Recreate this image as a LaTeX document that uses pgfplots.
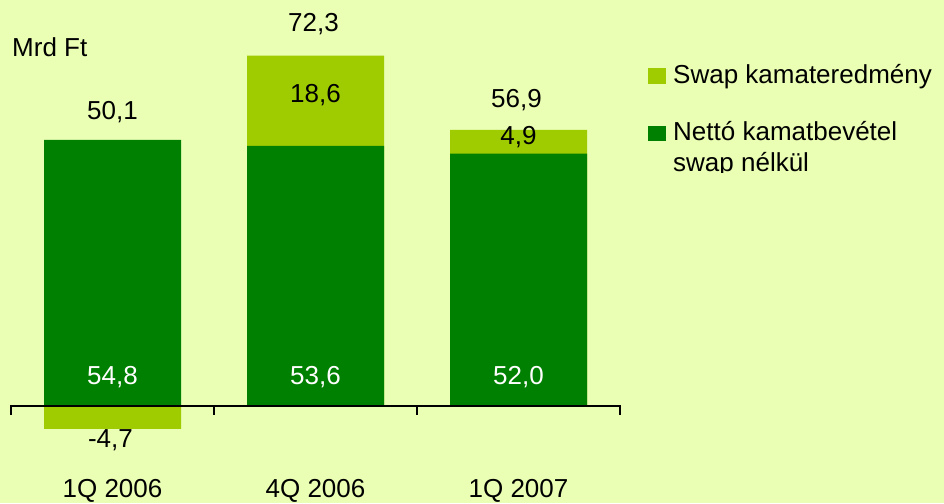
\documentclass[border=0pt]{standalone}
\usepackage{pgfplots}
\pgfplotsset{compat=1.18}
\usepackage{fontspec}
\setmainfont{Liberation Sans}
\definecolor{bg}{RGB}{234,255,180}
\definecolor{dgreen}{RGB}{0,128,0}
\definecolor{lgreen}{RGB}{158,204,0}
\tikzset{lbl/.style={font=\fontsize{26}{31}\selectfont, inner sep=0pt, anchor=base}}
\begin{document}
\begin{tikzpicture}[x=1pt,y=1pt]
\fill[bg] (0,0) rectangle (944,503);
\useasboundingbox (0,0) rectangle (944,503);
\begin{axis}[
  at={(11pt,0pt)}, anchor=south west,
  scale only axis, width=609pt, height=503pt,
  xmin=-0.5, xmax=2.5, ymin=-19.98, ymax=83.64,
  hide axis, clip=false,
  ybar, bar width=137pt, bar shift=0pt,
]
\addplot[fill=lgreen, draw=none] coordinates {(0,-4.7) (1,72.2) (2,56.9)};
\addplot[fill=dgreen, draw=none] coordinates {(0,54.8) (1,53.6) (2,52.0)};
\draw[line width=2pt, line cap=rect] (axis cs:-0.5,0) -- (axis cs:2.5,0);
\draw[line width=2pt] (axis cs:-0.5,0) -- (axis cs:-0.5,-1.85);
\draw[line width=2pt] (axis cs:0.5,0) -- (axis cs:0.5,-1.85);
\draw[line width=2pt] (axis cs:1.5,0) -- (axis cs:1.5,-1.85);
\draw[line width=2pt] (axis cs:2.5,0) -- (axis cs:2.5,-1.85);
% totals
\node[lbl] at (axis cs:0,59.1) {50,1};
\node[lbl] at (axis cs:0.99,77.05) {72,3};
\node[lbl] at (axis cs:1.99,61.4) {56,9};
% swap segments
\node[lbl] at (axis cs:1,62.6) {18,6};
\node[lbl] at (axis cs:2,53.8) {4,9};
\node[lbl] at (axis cs:-0.01,-8.45) {-4,7};
% net interest
\node[lbl, text=white] at (axis cs:0,4.53) {54,8};
\node[lbl, text=white] at (axis cs:1,4.53) {53,6};
\node[lbl, text=white] at (axis cs:2,4.53) {52,0};
% categories
\node[lbl] at (axis cs:0,-18.9) {1Q 2006};
\node[lbl] at (axis cs:1,-18.9) {4Q 2006};
\node[lbl] at (axis cs:2,-18.9) {1Q 2007};
\end{axis}
\node[lbl, anchor=base west] at (12,446) {Mrd Ft};
\begin{scope}
\clip (600,330) rectangle (944,503);
\fill[lgreen] (648,419) rectangle (666,435);
\fill[dgreen] (648,362) rectangle (666,377);
\node[lbl, anchor=base west] at (673,419) {Swap kamateredmény};
\node[lbl, anchor=base west] at (673,362) {Nettó kamatbevétel};
\node[lbl, anchor=base west] at (673,331) {swap nélkül};
\end{scope}
\end{tikzpicture}
\end{document}
